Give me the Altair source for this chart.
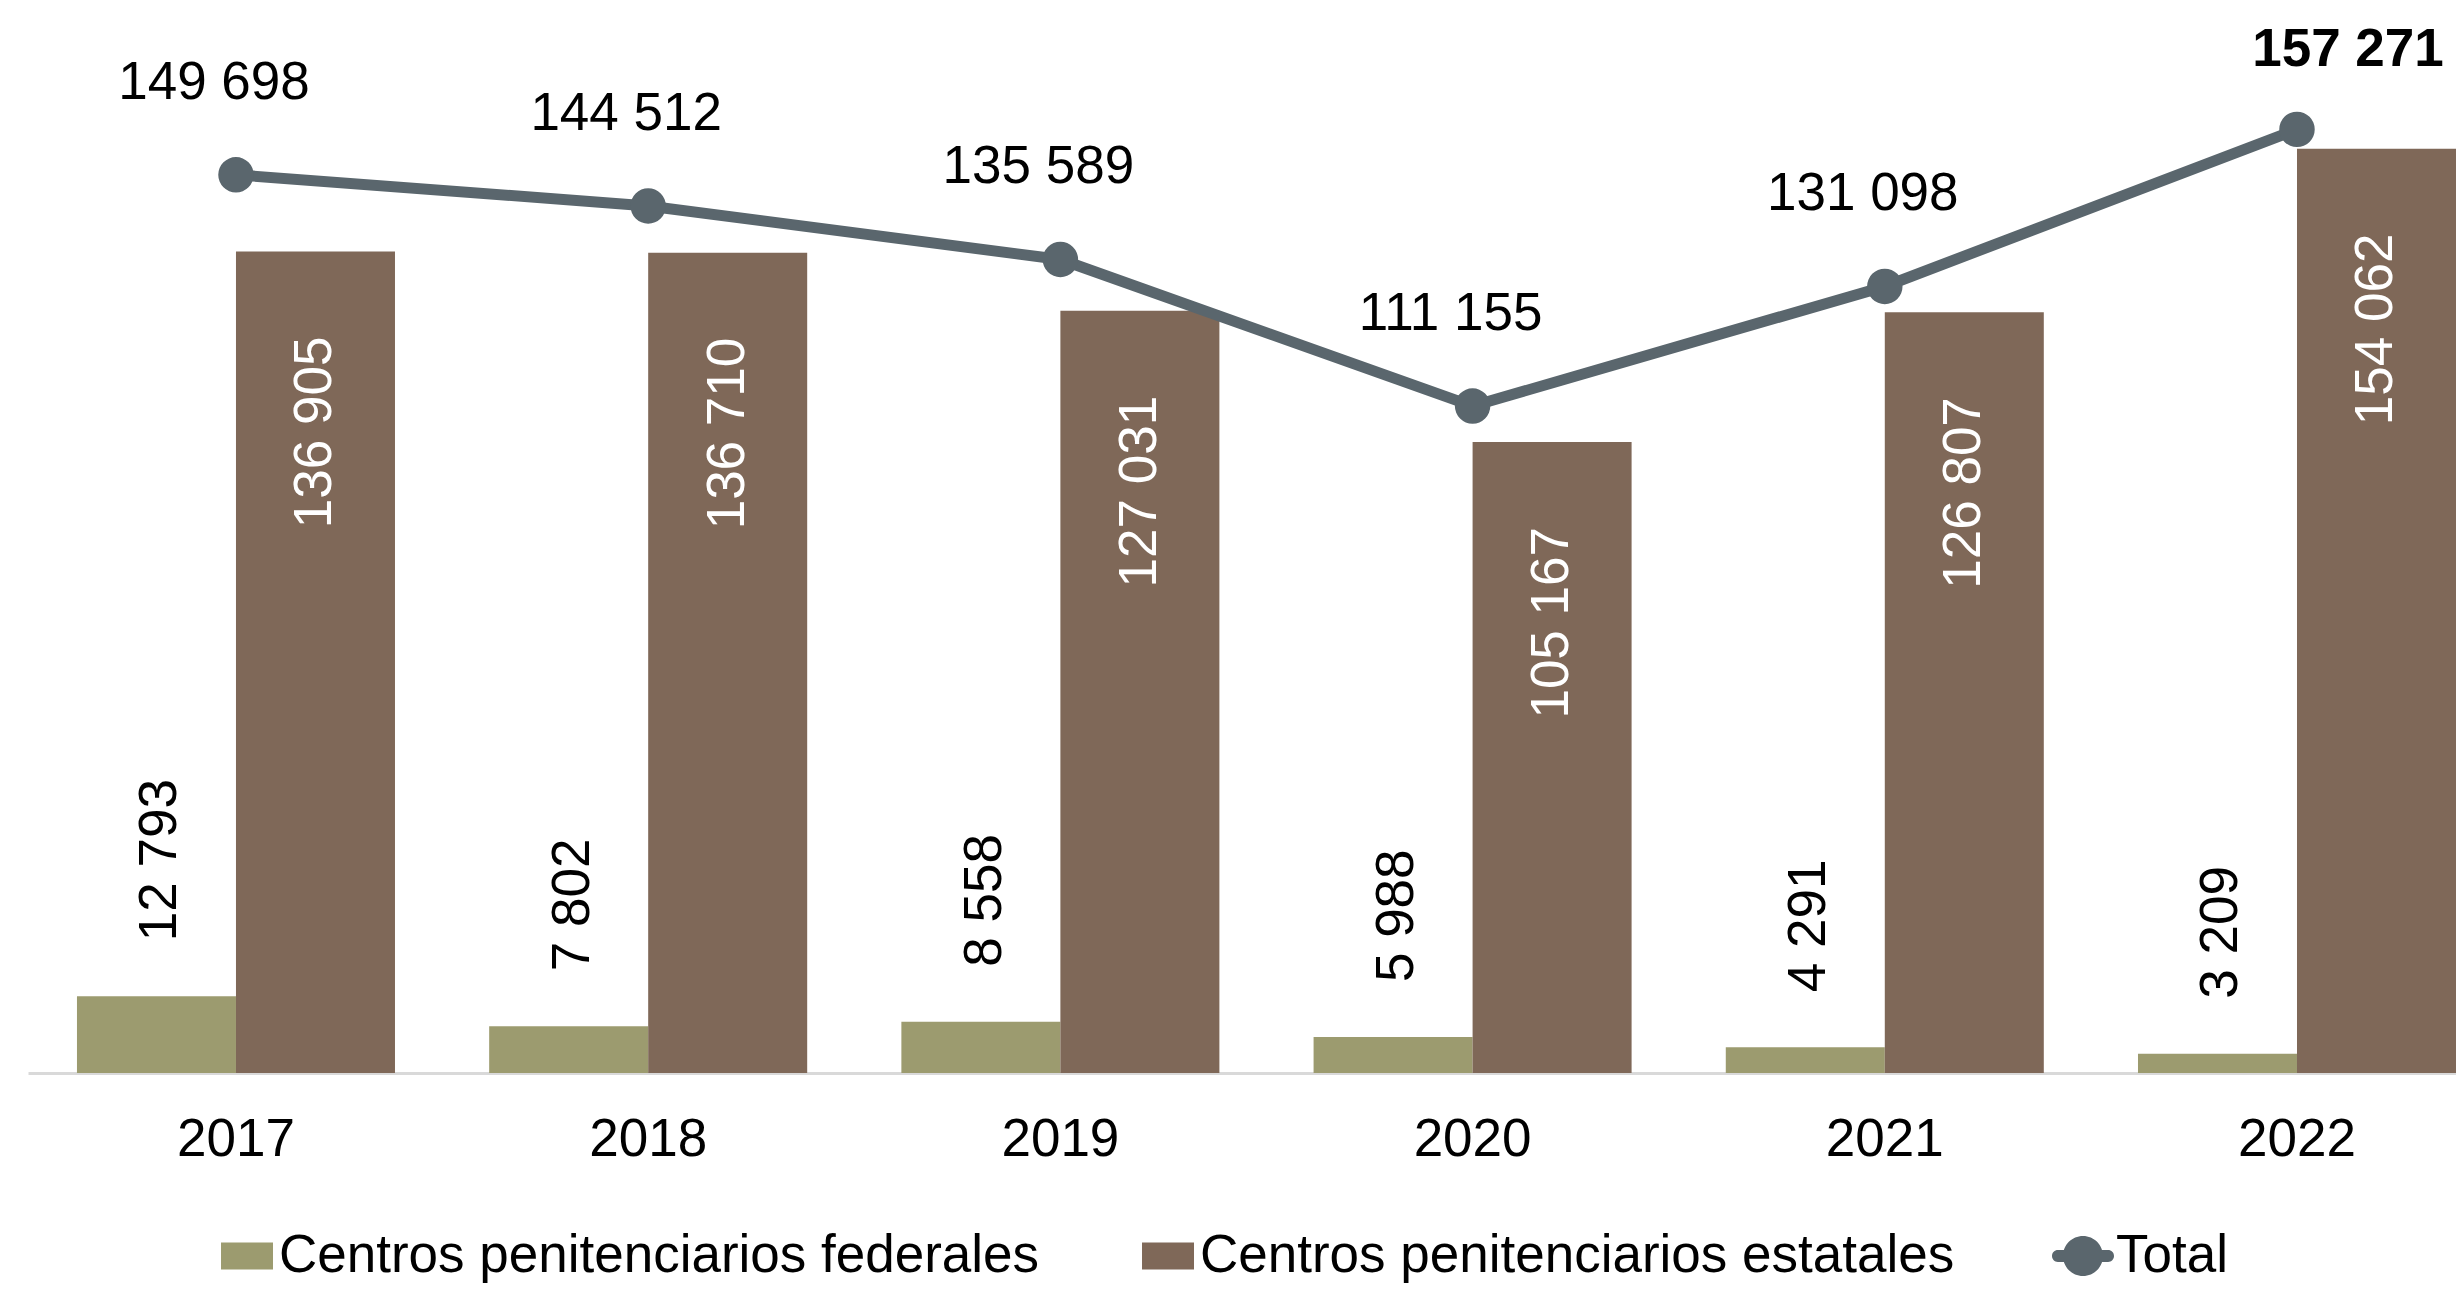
import altair as alt
import pandas as pd

years = ["2017", "2018", "2019", "2020", "2021", "2022"]
federales = [12793, 7802, 8558, 5988, 4291, 3209]
estatales = [136905, 136710, 127031, 105167, 126807, 154062]
total = [149698, 144512, 135589, 111155, 131098, 157271]

SER_FED = "Centros penitenciarios federales"
SER_EST = "Centros penitenciarios estatales"
SER_TOT = "Total"

GREEN = "#9C9B6F"
BROWN = "#7F6858"
GRAY = "#5A666D"
FONT = "Liberation Sans"
FS = 53


def fmt(v):
    return f"{v:,}".replace(",", " ")


bars_df = pd.DataFrame(
    [{"year": y, "serie": SER_FED, "value": v, "label": fmt(v)} for y, v in zip(years, federales)]
    + [{"year": y, "serie": SER_EST, "value": v, "label": fmt(v)} for y, v in zip(years, estatales)]
)
tot_df = pd.DataFrame({"year": years, "value": total, "label": [fmt(v) for v in total],
                       "serie": [SER_TOT] * len(years)})

xscale = alt.Scale(paddingInner=0.2285, paddingOuter=0.0594, align=1.0)
yscale = alt.Scale(domain=[0, 177500], nice=False, zero=True)

xaxis = alt.Axis(
    title=None, orient="bottom", labelAngle=0, ticks=False, tickSize=0, grid=False,
    labelFontSize=FS, labelColor="#000000", labelFont=FONT, labelPadding=40,
    domainColor="#D9D9D9", domainWidth=3,
)
X = alt.X("year:N", sort=years, scale=xscale, axis=xaxis)
XO = alt.XOffset("serie:N", scale=alt.Scale(domain=[SER_FED, SER_EST]))
Y = alt.Y("value:Q", scale=yscale, axis=None)

SQ = "M-0.806,-0.435H0.871V0.435H-0.806Z"
TOT = ("M-0.81,-0.19H0.81A0.19,0.19,0,0,1,0.81,0.19H-0.81A0.19,0.19,0,0,1,-0.81,-0.19Z"
       "M0.645,0A0.645,0.645,0,1,1,-0.645,0A0.645,0.645,0,1,1,0.645,0Z")

DOMAIN = [SER_FED, SER_EST, SER_TOT]

legend = alt.Legend(
    title=None,
    orient="none",
    legendX=187,
    legendY=1217,
    direction="horizontal",
    columns=3,
    columnPadding=96,
    labelOffset=2,
    labelFontSize=FS,
    labelFont=FONT,
    labelColor="#000000",
    labelLimit=3000,
    symbolSize=3844,
    symbolStrokeWidth=0,
    symbolOpacity=1,
    padding=0,
)

color = alt.Color(
    "serie:N",
    scale=alt.Scale(domain=DOMAIN, range=[GREEN, BROWN, GRAY]),
    legend=legend,
)
shape = alt.Shape(
    "serie:N",
    scale=alt.Scale(domain=DOMAIN, range=[SQ, SQ, TOT]),
    legend=legend,
)

bars = alt.Chart(bars_df).mark_bar().encode(x=X, xOffset=XO, y=Y, color=color)

fed_lbl = alt.Chart(bars_df).transform_filter(alt.datum.serie == SER_FED).mark_text(
    angle=270, align="left", baseline="middle", dx=55, dy=4,
    fontSize=FS, font=FONT, color="#000000",
).encode(x=X, xOffset=XO, y=Y, text="label:N")

est_lbl = alt.Chart(bars_df).transform_filter(alt.datum.serie == SER_EST).mark_text(
    angle=270, align="right", baseline="middle", dx=-85, dy=0,
    fontSize=FS, font=FONT, color="#FFFFFF",
).encode(x=X, xOffset=XO, y=Y, text="label:N")

line = alt.Chart(tot_df).mark_line(color=GRAY, strokeWidth=11).encode(x=X, y=Y)
pts = alt.Chart(tot_df).mark_point(filled=True, size=1257, opacity=1, color=GRAY).encode(x=X, y=Y)

# invisible layer that only feeds the legend its symbol shapes
legend_layer = alt.Chart(tot_df).mark_point(filled=True, opacity=0).encode(
    x=X, y=Y, color=color, shape=shape
)

tot_lbl = alt.Chart(tot_df).transform_filter(alt.datum.year != "2022").mark_text(
    align="center", baseline="alphabetic", dx=-22, dy=-76,
    fontSize=FS, font=FONT, color="#000000",
).encode(x=X, y=Y, text="label:N")

tot_last = alt.Chart(tot_df).transform_filter(alt.datum.year == "2022").mark_text(
    align="center", baseline="alphabetic", dx=51, dy=-63,
    fontSize=FS, font=FONT, fontWeight="bold", color="#000000",
).encode(x=X, y=Y, text="label:N")

chart = alt.layer(bars, fed_lbl, est_lbl, line, pts, legend_layer, tot_lbl, tot_last).properties(
    width=2428,
    height=1065,
    autosize=alt.AutoSizeParams(type="none"),
    padding={"left": 20, "top": 0, "right": 0, "bottom": 211},
).configure(font=FONT).configure_view(stroke="transparent", strokeWidth=0)

chart.save("out.html", embed_options={"renderer": "svg", "actions": False})
